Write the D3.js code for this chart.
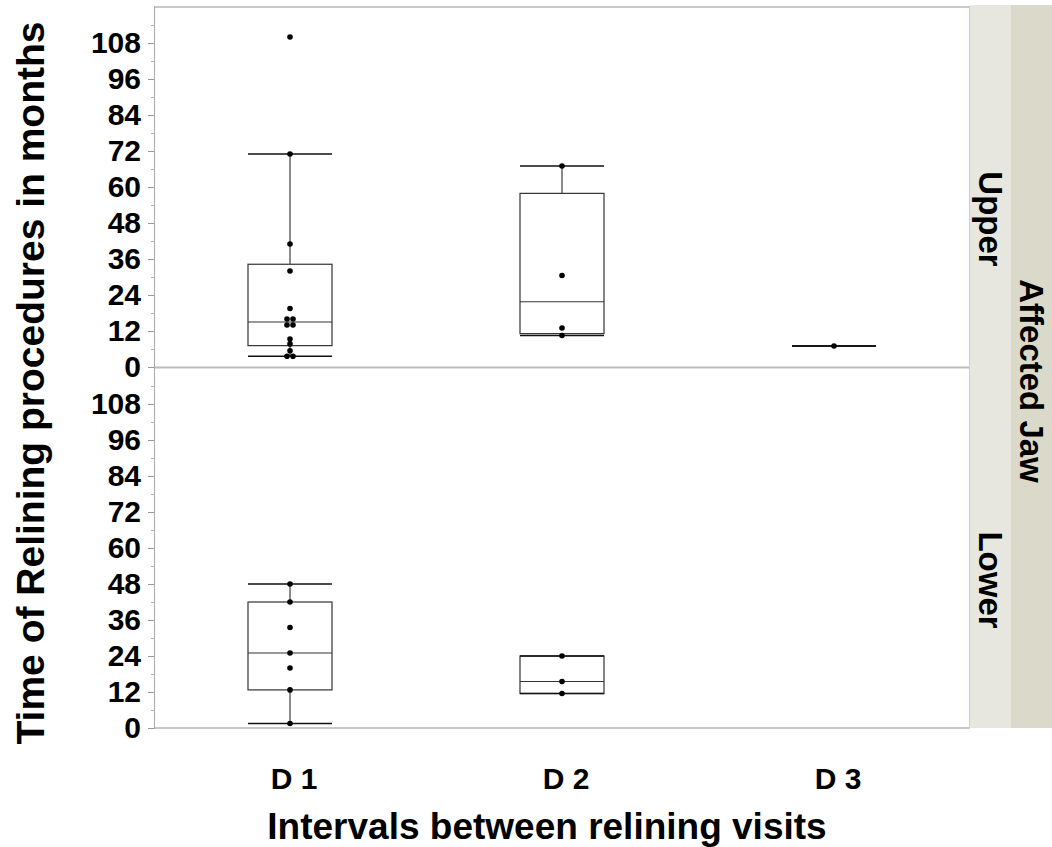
<!DOCTYPE html>
<html>
<head>
<meta charset="utf-8">
<script src="https://cdn.jsdelivr.net/npm/d3@7"></script>
<style>
  html, body { margin: 0; padding: 0; background: #fff; }
  svg { display: block; font-family: "Liberation Sans", Arial, sans-serif; }
</style>
</head>
<body>
<svg id="chart" width="1052" height="847"></svg>
<script>
// Interval categories on the x axis
const categories = ["D 1", "D 2", "D 3"];
// Facet rows (affected jaw)
const jawRows = ["Upper", "Lower"];

// Months between relining procedures, per jaw and interval
const upperD1 = [110, 71, 41, 32, 19.5, 16, 16, 14, 14, 9.3, 7.7, 5.4, 3.6, 3.6];
const upperD2 = [67, 30.5, 13, 10.5];
const upperD3 = [7];
const lowerD1 = [48, 42, 33.5, 25, 20, 12.7, 1.5];
const lowerD2 = [24, 15.5, 11.5];
const lowerD3 = [];

// Axis ticks
const yTicks = [0, 12, 24, 36, 48, 60, 72, 84, 96, 108];
const yMinorTicks = [6, 18, 30, 42, 54, 66, 78, 90, 102, 114];
const yMax = 120;

const rowData = {
  Upper: [upperD1, upperD2, upperD3],
  Lower: [lowerD1, lowerD2, lowerD3]
};

const svg = d3.select("#chart");
const left = 154, right = 969;
const rowRanges = { Upper: [367, 7], Lower: [728, 368] };

const x = d3.scaleBand().domain(categories).range([left, right + 1]).padding(0);
const boxW = 84;

// Quantile with (n+1)p positioning
function quantile(sorted, p) {
  const n = sorted.length;
  const pos = p * (n + 1);
  if (pos <= 1) return sorted[0];
  if (pos >= n) return sorted[n - 1];
  const i = Math.floor(pos), f = pos - i;
  return sorted[i - 1] + f * (sorted[i] - sorted[i - 1]);
}

function boxStats(values) {
  const s = values.slice().sort((a, b) => a - b);
  const q1 = quantile(s, 0.25), med = quantile(s, 0.5), q3 = quantile(s, 0.75);
  const iqr = q3 - q1;
  const lo = d3.min(s.filter(v => v >= q1 - 1.5 * iqr));
  const hi = d3.max(s.filter(v => v <= q3 + 1.5 * iqr));
  return { q1, med, q3, lo, hi };
}

// Strip backgrounds
svg.append("rect").attr("x", 970).attr("y", 5).attr("width", 41).attr("height", 723).attr("fill", "#e7e7e0");
svg.append("rect").attr("x", 1011).attr("y", 5).attr("width", 41).attr("height", 723).attr("fill", "#dbd9ca");

jawRows.forEach(row => {
  const y = d3.scaleLinear().domain([0, yMax]).range(rowRanges[row]);
  const g = svg.append("g");

  // minor ticks
  g.selectAll("line.minor").data(yMinorTicks).join("line")
    .attr("x1", left - 3).attr("x2", left)
    .attr("y1", d => Math.round(y(d)) + 0.5).attr("y2", d => Math.round(y(d)) + 0.5)
    .attr("stroke", "#aaa").attr("stroke-width", 1);

  // y axis with major ticks
  const axis = d3.axisLeft(y).tickValues(yTicks).tickSize(6).tickPadding(7).tickFormat(d3.format("d"));
  const ag = g.append("g").attr("transform", `translate(${left},0)`).call(axis);
  ag.select(".domain").remove();
  ag.selectAll(".tick line").attr("stroke", "#999");
  ag.selectAll(".tick text")
    .attr("fill", "#000")
    .style("font-size", "30px")
    .style("font-weight", "bold")
    .style("font-family", "'Liberation Sans', Arial, sans-serif");

  // boxes
  rowData[row].forEach((vals, ci) => {
    if (!vals.length) return;
    const cx = x(categories[ci]) + x.bandwidth() / 2;
    const st = boxStats(vals);
    const bg = g.append("g");
    // whisker stems
    bg.append("line").attr("x1", cx).attr("x2", cx).attr("y1", y(st.q3)).attr("y2", y(st.hi))
      .attr("stroke", "#666").attr("stroke-width", 1.5);
    bg.append("line").attr("x1", cx).attr("x2", cx).attr("y1", y(st.q1)).attr("y2", y(st.lo))
      .attr("stroke", "#666").attr("stroke-width", 1.5);
    // box
    bg.append("rect").attr("x", cx - boxW / 2).attr("y", y(st.q3))
      .attr("width", boxW).attr("height", Math.max(0, y(st.q1) - y(st.q3)))
      .attr("fill", "none").attr("stroke", "#333").attr("stroke-width", 1.2);
    // median
    bg.append("line").attr("x1", cx - boxW / 2).attr("x2", cx + boxW / 2)
      .attr("y1", y(st.med)).attr("y2", y(st.med)).attr("stroke", "#333").attr("stroke-width", 1.2);
    // whisker caps
    [st.lo, st.hi].forEach(v => {
      bg.append("line").attr("x1", cx - boxW / 2).attr("x2", cx + boxW / 2)
        .attr("y1", y(v)).attr("y2", y(v)).attr("stroke", "#111").attr("stroke-width", 1.5);
    });
    // points, side by side when values coincide
    const groups = d3.group(vals, v => v);
    const pts = [];
    groups.forEach((arr, v) => arr.forEach((_, i) => pts.push({ v, off: (i - (arr.length - 1) / 2) * 6 })));
    bg.selectAll("circle").data(pts).join("circle")
      .attr("cx", d => cx + d.off).attr("cy", d => y(d.v)).attr("r", 2.8).attr("fill", "#000");
  });
});

// frame
svg.append("line").attr("x1", left).attr("x2", right).attr("y1", 7).attr("y2", 7).attr("stroke", "#c8c8c8").attr("stroke-width", 2);
svg.append("line").attr("x1", left).attr("x2", right).attr("y1", 367.5).attr("y2", 367.5).attr("stroke", "#bbb").attr("stroke-width", 2);
svg.append("line").attr("x1", left).attr("x2", right).attr("y1", 728).attr("y2", 728).attr("stroke", "#c8c8c8").attr("stroke-width", 2);
svg.append("line").attr("x1", right + 0.5).attr("x2", right + 0.5).attr("y1", 6).attr("y2", 729).attr("stroke", "#ccc").attr("stroke-width", 1);
svg.append("line").attr("x1", left + 0.5).attr("x2", left + 0.5).attr("y1", 6).attr("y2", 729).attr("stroke", "#aaa").attr("stroke-width", 1);

// x axis labels
svg.append("g").selectAll("text").data(categories).join("text")
  .attr("x", d => x(d) + x.bandwidth() / 2 + 4)
  .attr("y", 789)
  .attr("text-anchor", "middle")
  .style("font-size", "30px").style("font-weight", "bold")
  .text(d => d);

// axis titles
svg.append("text")
  .attr("x", 547).attr("y", 839)
  .attr("text-anchor", "middle")
  .style("font-size", "37px").style("font-weight", "bold")
  .text("Intervals between relining visits");

svg.append("text")
  .attr("transform", "translate(44,383) rotate(-90)")
  .attr("text-anchor", "middle")
  .style("font-size", "39px").style("font-weight", "bold")
  .text("Time of Relining procedures in months");

// strip labels
const stripLabel = (txt, cx, cy, size) => svg.append("text")
  .attr("transform", `translate(${cx},${cy}) rotate(90)`)
  .attr("text-anchor", "middle").attr("dominant-baseline", "central")
  .style("font-size", size + "px").style("font-weight", "bold")
  .text(txt);
stripLabel("Upper", 990, 219, 33);
stripLabel("Lower", 990, 580, 33);
stripLabel("Affected Jaw", 1031, 381, 33);
</script>
</body>
</html>
